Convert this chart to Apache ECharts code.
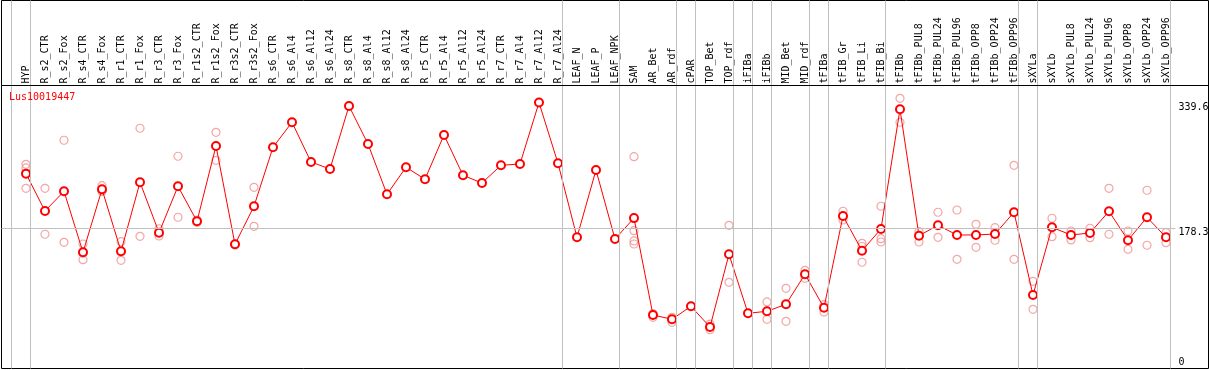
<!DOCTYPE html>
<html>
<head>
<meta charset="utf-8">
<script src="https://cdn.jsdelivr.net/npm/echarts@6/dist/echarts.min.js"></script>
<style>
html,body{margin:0;padding:0;background:#fff;}
#chart{width:1209px;height:370px;}
</style>
</head>
<body>
<div id="chart"></div>
<script>
const geneName = 'Lus10019447';
const categories = ['HYP','R_s2_CTR','R_s2_Fox','R_s4_CTR','R_s4_Fox','R_r1_CTR','R_r1_Fox','R_r3_CTR','R_r3_Fox','R_r1s2_CTR','R_r1s2_Fox','R_r3s2_CTR','R_r3s2_Fox','R_s6_CTR','R_s6_Al4','R_s6_Al12','R_s6_Al24','R_s8_CTR','R_s8_Al4','R_s8_Al12','R_s8_Al24','R_r5_CTR','R_r5_Al4','R_r5_Al12','R_r5_Al24','R_r7_CTR','R_r7_Al4','R_r7_Al12','R_r7_Al24','LEAF_N','LEAF_P','LEAF_NPK','SAM','AR_Bet','AR_rdf','cPAR','TOP_Bet','TOP_rdf','iFIBa','iFIBb','MID_Bet','MID_rdf','tFIBa','tFIB_Gr','tFIB_Li','tFIB_Bi','tFIBb','tFIBb_PUL8','tFIBb_PUL24','tFIBb_PUL96','tFIBb_OPP8','tFIBb_OPP24','tFIBb_OPP96','sXYLa','sXYLb','sXYLb_PUL8','sXYLb_PUL24','sXYLb_PUL96','sXYLb_OPP8','sXYLb_OPP24','sXYLb_OPP96'];
const meanValues = [248.4,200.5,225.8,147.6,228.4,148.9,237.3,172.7,232.2,187.3,283.9,157.8,206.6,282.2,314.3,263.4,254.4,335.2,286.4,221.9,256.6,241.2,298.0,246.3,236.4,259.1,260.8,339.6,261.7,166.8,253.1,164.6,191.4,67.2,61.7,78.3,51.8,145.0,69.4,71.9,80.9,119.4,76.5,194.1,149.6,177.5,330.9,168.9,182.2,169.8,169.8,171.0,198.9,92.8,179.6,169.8,172.3,200.2,163.0,192.5,166.8];
const replicateValues = [
  [260.4,255.7,229.6],[229.6,170.7],[291.2,160.4],[158.2,146.5,138.1],[233.0,226.2,226.0],
  [161.2,148.2,137.3],[306.6,168.1],[177.8,168.5],[270.7,192.5],[189.0,186.0],
  [301.4,265.5],[157.0,158.2],[230.9,180.9],
  [],[],[],[],[],[],[],[],[],[],[],[],[],[],[],[],[],[],[],
  [270.2,175.3,162.1,158.2],[64.2,69.0],[64.2,57.8],[],[55.6,48.3],[182.2,109.1],[],[83.9,61.7],
  [101.4,59.1],[124.5,114.2],[71.0,80.5],[200.2,189.0],[159.1,155.0,134.8],[206.6,165.0,160.8],
  [345.0,314.3],[174.0,160.8],[198.9,166.8],[201.8,138.6],[183.5,154.0],[179.1,163.0],[259.1,138.6],
  [110.4,74.5],[191.2,167.6],[174.9,163.4],[178.4,166.3],[229.6,170.7],[174.9,151.4],[227.1,156.6],[172.7,159.9]
];
const groupEnds = [-1,0,28,31,34,35,37,38,39,41,42,45,52,53,60];
const yTickValues = [0,178.3,339.6];
const yTickLabels = ['0','178.3','339.6'];
const refLineValue = 178.3;

const FONT = 'DejaVu Sans Mono';
const meanData = meanValues.map((v,i)=>[i,v]);
const repData = [];
replicateValues.forEach((arr,i)=>arr.forEach(v=>repData.push([i,v])));

const xMin = -1.2895, xMax = 62.237;
const yMin = -1.4, yMax = 470.4;
const gridTop = 0.5, gridHeight = 368, headerHeight = 85;
// value at the header separator line (derived from the y scale)
const headerValue = yMin + (gridHeight - headerHeight) / gridHeight * (yMax - yMin);

const chart = echarts.init(document.getElementById('chart'), null, {renderer:'canvas'});
chart.setOption({
  animation:false,
  backgroundColor:'#fff',
  title:{text:geneName,left:9,top:92,padding:0,textStyle:{color:'#ff0000',fontSize:10,fontWeight:'normal',fontFamily:FONT}},
  grid:{left:1.5,top:gridTop,width:1207,height:gridHeight,show:true,borderColor:'#000',borderWidth:1,backgroundColor:'rgba(0,0,0,0)',containLabel:false,outerBoundsMode:'none'},
  xAxis:{type:'value',min:xMin,max:xMax,position:'top',offset:-headerHeight,
    axisLine:{show:false},axisTick:{show:false},splitLine:{show:false},
    axisLabel:{customValues:categories.map((c,i)=>i),formatter:v=>categories[Math.round(v)],rotate:90,margin:2,color:'#000',fontFamily:FONT,fontSize:10}},
  yAxis:{type:'value',min:yMin,max:yMax,position:'right',
    axisLine:{show:false},axisTick:{show:false},splitLine:{show:false},
    axisLabel:{inside:true,margin:30,align:'left',customValues:yTickValues,color:'#000',fontFamily:FONT,fontSize:10,
      formatter:v=>{
        let k=0,d=1e9; yTickValues.forEach((t,j)=>{if(Math.abs(t-v)<d){d=Math.abs(t-v);k=j;}});
        const key = k===0?'b':(k===1?'m':'t');
        return '{'+key+'|'+yTickLabels[k]+'}';
      },
      rich:{
        t:{padding:[9.6,0,0,0],fontFamily:FONT,fontSize:10,color:'#000'},
        m:{padding:[7.4,0,0,0],fontFamily:FONT,fontSize:10,color:'#000'},
        b:{padding:[0,0,10,0],fontFamily:FONT,fontSize:10,color:'#000'}
      }}},
  series:[
    {type:'scatter',data:repData,symbol:'circle',symbolSize:8,z:2,silent:true,
      itemStyle:{color:'rgba(0,0,0,0)',borderColor:'#f09090',borderWidth:1.2},
      markLine:{silent:true,symbol:['none','none'],label:{show:false},animation:false,
        lineStyle:{color:'#c0c0c0',width:1,type:'solid'},
        data:groupEnds.map(g=>({xAxis:g+0.24}))}},
    {type:'line',data:meanData,symbol:'emptyCircle',symbolSize:8,z:3,silent:true,
      lineStyle:{color:'#ff0000',width:1},itemStyle:{color:'#ff0000',borderWidth:1.3},
      markLine:{silent:true,symbol:['none','none'],label:{show:false},animation:false,
        data:[
          [{coord:[xMin,refLineValue],lineStyle:{color:'#c0c0c0',width:1,type:'solid'}},{coord:[categories.length-0.5,refLineValue]}],
          [{coord:[xMin,headerValue],lineStyle:{color:'#000',width:1,type:'solid'}},{coord:[xMax,headerValue]}]
        ]}}
  ]
});
</script>
</body>
</html>
